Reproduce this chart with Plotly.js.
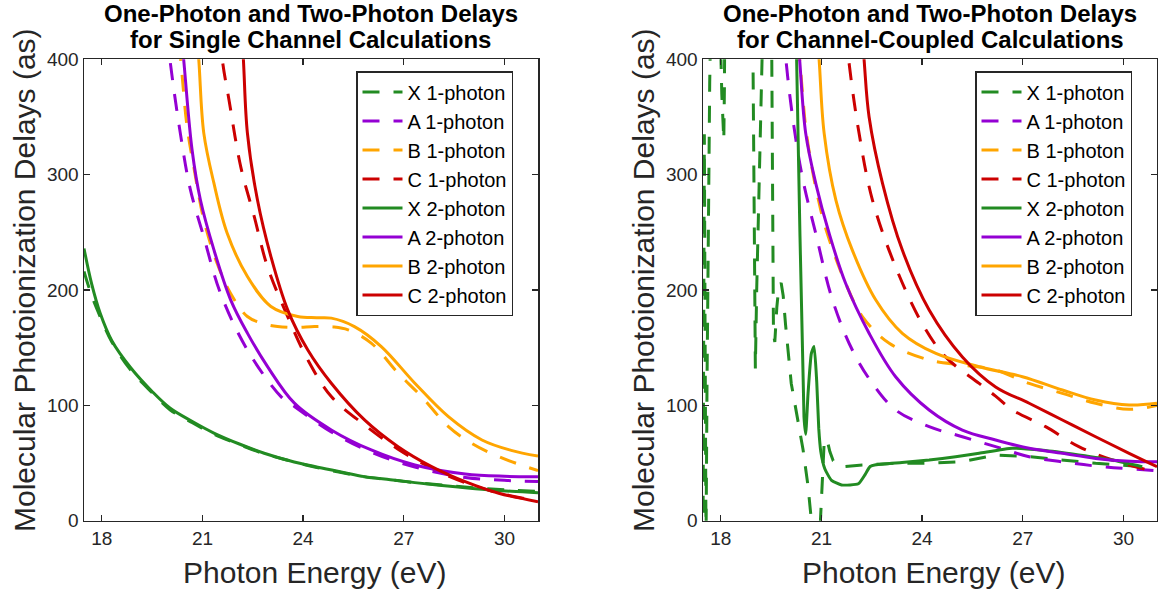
<!DOCTYPE html>
<html><head><meta charset="utf-8">
<script src="https://cdn.plot.ly/plotly-3.0.1.min.js"></script>
<style>html,body{margin:0;padding:0;background:#fff;}#chart{width:1158px;height:598px;}</style>
</head><body><div id="chart"></div>
<script>
// ---------- labels ----------
const seriesNames = ['X 1-photon','A 1-photon','B 1-photon','C 1-photon','X 2-photon','A 2-photon','B 2-photon','C 2-photon'];
const xTicks = [18, 21, 24, 27, 30];
const yTicks = [0, 100, 200, 300, 400];
const titleLine1 = 'One-Photon and Two-Photon Delays';
const titleLeft2 = 'for Single Channel Calculations';
const titleRight2 = 'for Channel-Coupled Calculations';
const xTitle = 'Photon Energy (eV)';
const yTitle = 'Molecular Photoionization Delays (as)';

// ---------- left panel: single channel ----------
const scX1E = [17.47,17.7,17.95,18.3,18.85,19.5,20.04,20.7,21.34,22.1,22.84,23.6,24.34,25.1,25.83,26.6,27.33,28.3,29.33,30.2,31.0];
const scX1D = [216,195,177,155,131,111,96,85,75,66,58,52,46.5,42,38,35.5,33,30.5,28,26.5,25.5];
const scA1E = [19.85,20.03,20.34,20.64,21.04,21.54,22.34,23.34,23.74,24.84,26.03,27.33,28.83,30.0,31.0];
const scA1D = [450,400,336,287,246,197,148,107.6,99,77,59.5,46.5,37.5,35,34];
const scB1E = [20.2,20.35,20.54,20.74,21.04,21.44,21.84,22.34,22.8,23.24,23.8,24.34,24.9,25.34,26.03,26.83,27.53,28.33,29.03,29.83,31.0];
const scB1D = [440,400,342,307,261,223,197,177,171,168.3,167.5,168.3,168,165.5,154,128,107.6,81.6,67,55.5,43.4];
const scC1E = [21.45,21.59,21.79,22.14,22.54,22.94,23.54,24.14,24.84,25.83,26.83,27.83,28.83,29.83,31.0];
const scC1D = [450,400,365,307,264,220,177,139.4,107.6,83,62,45.5,33,24,17];
const scX2E = [17.47,17.7,17.95,18.3,18.85,19.5,20.04,20.7,21.34,22.1,22.84,23.6,24.34,25.1,25.83,26.6,27.33,28.3,29.33,30.2,31.0];
const scX2D = [236,205,180,156,133,112,97.5,86,76,66.5,58.5,52,47,42.5,38.2,35.5,33,30,27.2,25.5,24.3];
const scA2E = [20.25,20.44,20.69,20.94,21.34,21.84,22.34,22.94,23.74,24.84,26.03,27.33,28.83,30.0,31.0];
const scA2D = [460,400,321.6,278,235,191.5,162.6,133.6,101.9,78.7,61.3,48.3,40.5,38.5,38.2];
const scB2E = [20.75,20.89,21.04,21.34,21.74,22.34,23.04,23.84,24.4,24.84,25.53,26.33,27.33,28.33,29.33,30.2,31.0];
const scB2D = [450,400,336,292.8,249,211.7,185.7,177,176,175.6,168.3,151,119.2,90.2,70,61,56];
const scC2E = [22.1,22.22,22.34,22.64,23.04,23.54,24.14,24.84,25.83,26.83,27.83,28.83,29.83,31.0];
const scC2D = [460,400,336,278,229,182.8,148,119.2,87.4,64.2,46.9,33.8,23.8,16.5];

// ---------- right panel: channel coupled ----------
const ccX1E = [17.47,17.49,17.51,17.53,17.55,17.56,17.59,17.63,17.67,17.70,17.72,
               17.96,17.99,18.03,18.07,18.09,18.11,18.13,
               18.93,18.96,19.0,19.03,19.07,19.18,19.23,19.26,
               19.5,19.52,19.55,19.57,19.61,19.67,19.73,19.8,19.86,19.93,20.1,20.29,20.45,20.6,20.7,20.8,20.92,20.97,21.03,21.08,21.16,21.25,21.35,21.5,21.7,22.22,23.21,24.21,25.2,26.19,27.19,28.18,29.17,30.56];
const ccX1D = [-20,150,335,180,0,-20,120,300,380,430,520,
               520,420,370,340,330,380,520,
               470,400,250,132,200,330,400,470,
               470,400,250,162,155,185,203,206,195,170,119,87,62,30,0,-30,-30,5,38,67,71,60,52,48,47,48.3,49.8,49.8,51.2,57,55.5,52.6,49.8,46.8];
const ccA1E = [19.8,19.94,20.14,20.43,20.83,21.33,21.92,22.52,23.21,24.21,25.2,26.19,27.19,28.18,29.17,31.0];
const ccA1D = [450,400,350,298,249,191.3,148,119,96,81.5,72.8,64.2,55.5,51,47.4,43.3];
const ccB1E = [20.2,20.35,20.53,20.68,20.88,21.13,21.72,22.22,23.02,24.21,25.2,26.19,27.19,28.18,29.17,30.17,31.0];
const ccB1D = [440,400,341,312,282,253,205.8,177,153.8,139.3,135,130.6,119,110.4,101.8,96.6,100];
const ccC1E = [21.65,21.81,22.12,22.52,23.21,24.0,24.7,25.7,26.19,26.69,27.68,28.67,29.67,31.0];
const ccC1D = [450,400,336,278,220,171,142,119,108,96,81.5,64.2,52.6,42];
const ccX2E = [20.2,20.26,20.48,20.53,20.6,20.7,20.78,20.86,20.92,20.98,21.1,21.3,21.6,22.1,22.3,22.45,22.62,23.4,24.21,25.0,25.7,26.69,27.6,28.67,29.67,30.56];
const ccX2D = [480,400,90,75,110,145,151,120,80,60,45,35,31,32,40,47,48.5,50.5,52.6,55.5,58.4,62.8,61,57,52.6,46.8];
const ccA2E = [20.2,20.35,20.53,20.83,21.23,21.72,22.42,23.21,24.21,25.2,26.19,27.19,28.18,29.17,30.2,31.0];
const ccA2D = [460,400,336,292.5,249,205.8,162.5,124.8,96,78.6,70,62.8,58.4,54,51.5,51];
const ccB2E = [20.8,20.93,21.08,21.43,21.92,22.62,23.41,24.41,25.7,26.99,28.18,29.17,30.17,31.0];
const ccB2D = [450,400,336,278,234.6,191.3,162.5,145,133.5,124.8,113.3,104.6,100.3,101.8];
const ccC2E = [22.1,22.27,22.42,22.82,23.41,24.21,25.2,26.19,27.19,28.18,29.17,30.17,31.0];
const ccC2D = [470,400,350,292.5,234.6,182.7,142,116,101.8,87.3,72.8,58.4,46.8];

// ---------- styling ----------
const FONT = 'Liberation Sans, Arial, Helvetica, sans-serif';
const INK = '#262626';
const GREEN = '#228B22', PURPLE = '#9400D3', ORANGE = '#FFA500', RED = '#CC0000';
const colors = [GREEN, PURPLE, ORANGE, RED, GREEN, PURPLE, ORANGE, RED];
const DASH = '17px,14px';

function mk(E, D, idx, xa, ya, leg, shape, smooth) {
  return {
    x: E, y: D, type: 'scatter', mode: 'lines', name: seriesNames[idx],
    xaxis: xa, yaxis: ya, legend: leg,
    line: {color: colors[idx], width: 3, dash: idx < 4 ? DASH : 'solid',
           shape: shape || 'spline', smoothing: smooth === undefined ? 1 : smooth},
    hoverinfo: 'skip'
  };
}

const left = [[scX1E,scX1D],[scA1E,scA1D],[scB1E,scB1D],[scC1E,scC1D],[scX2E,scX2D],[scA2E,scA2D],[scB2E,scB2D],[scC2E,scC2D]];
const right = [[ccX1E,ccX1D],[ccA1E,ccA1D],[ccB1E,ccB1D],[ccC1E,ccC1D],[ccX2E,ccX2D],[ccA2E,ccA2D],[ccB2E,ccB2D],[ccC2E,ccC2D]];

const traces = [];
left.forEach((p, i) => traces.push(mk(p[0], p[1], i, 'x', 'y', 'legend')));
right.forEach((p, i) => {
  let shape = 'spline', sm = 1;
  if (i === 0) { shape = 'linear'; }
  if (i === 4) { sm = 0.5; }
  traces.push(mk(p[0], p[1], i, 'x2', 'y2', 'legend2', shape, sm));
});

const W = 1158, H = 598;
const yDom = [(H - 520.7) / H, (H - 59.3) / H];
function xax(dom) {
  return {domain: dom, range: [17.47, 31.0], tickvals: xTicks, ticktext: xTicks.map(String),
    ticks: 'inside', ticklen: 6, tickwidth: 1.3, tickcolor: INK,
    showline: true, linecolor: INK, linewidth: 1.5, mirror: 'ticks',
    showgrid: false, zeroline: false, fixedrange: true,
    tickfont: {family: FONT, size: 19, color: INK}};
}
function yax(anchor) {
  return {domain: yDom, range: [0, 400], tickvals: yTicks, ticktext: yTicks.map(String), anchor: anchor,
    ticks: 'inside', ticklen: 6, tickwidth: 1.3, tickcolor: INK,
    showline: true, linecolor: INK, linewidth: 1.5, mirror: 'ticks',
    showgrid: false, zeroline: false, fixedrange: true,
    tickfont: {family: FONT, size: 19, color: INK}};
}
function legendCfg(xpx) {
  return {x: xpx / W, y: (H - 71) / H, xanchor: 'left', yanchor: 'top',
    bgcolor: '#ffffff', bordercolor: INK, borderwidth: 1.5,
    font: {family: FONT, size: 20, color: '#000'}, itemwidth: 40, tracegroupgap: 0};
}

const leftCx = 311, rightCx = 930;
function ann(text, xpx, ypx, size, bold, angle) {
  return {text: bold ? '<b>' + text + '</b>' : text, xref: 'paper', yref: 'paper',
    x: xpx / W, y: (H - ypx) / H, xanchor: 'center', yanchor: 'middle', showarrow: false,
    textangle: angle || 0, font: {family: FONT, size: size, color: bold ? '#000' : INK}};
}

const layout = {
  width: W, height: H, margin: {l: 0, r: 0, t: 0, b: 0},
  paper_bgcolor: '#fff', plot_bgcolor: '#fff', showlegend: true,
  xaxis: xax([84 / W, 538 / W]), yaxis: yax('x'),
  xaxis2: xax([703 / W, 1157 / W]), yaxis2: yax('x2'),
  legend: legendCfg(356), legend2: legendCfg(975),
  annotations: [
    ann(titleLine1, leftCx, 14, 24, true), ann(titleLeft2, leftCx, 40, 24, true),
    ann(titleLine1, rightCx, 14, 24, true), ann(titleRight2, rightCx, 40, 24, true),
    ann(xTitle, leftCx + 3, 572, 30, false), ann(xTitle, rightCx + 3, 572, 30, false),
    ann(yTitle, 24, 280, 30, false, -90), ann(yTitle, 643, 280, 30, false, -90)
  ]
};
Plotly.newPlot('chart', traces, layout, {staticPlot: true, displayModeBar: false});
</script></body></html>
